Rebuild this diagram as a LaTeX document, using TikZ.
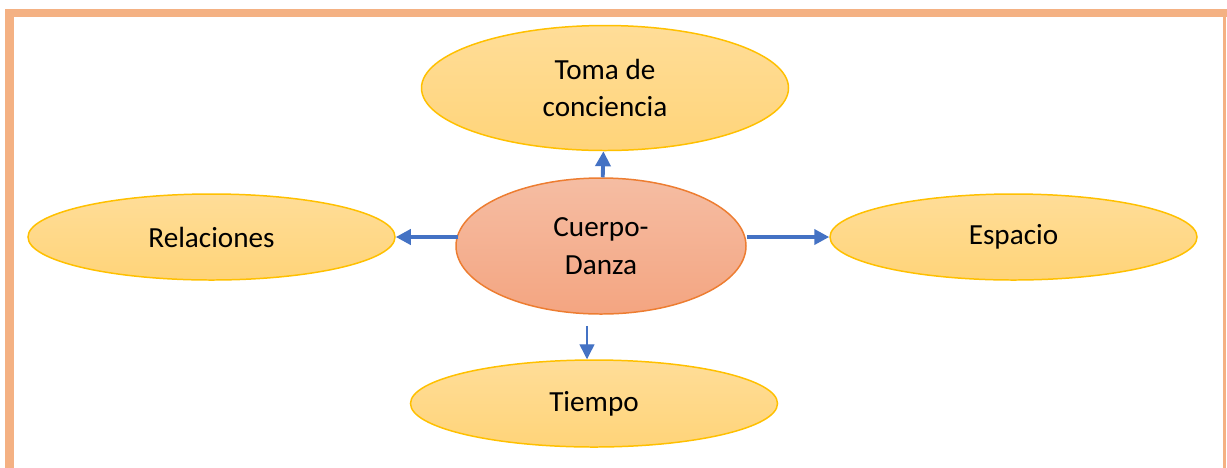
\documentclass[tikz,border=0pt]{standalone}
\usepackage{fontspec}
\setmainfont{Carlito}
\usepackage{xcolor}
\usepackage{tikz}
\usetikzlibrary{shapes.geometric,arrows.meta}

\definecolor{marcosalmon}{HTML}{F4B183}
\definecolor{bordeamarillo}{HTML}{FFC000}
\definecolor{amarilloarriba}{HTML}{FFDD98}
\definecolor{amarilloabajo}{HTML}{FFD479}
\definecolor{bordenaranja}{HTML}{ED7D31}
\definecolor{salmonarriba}{HTML}{F5BDA3}
\definecolor{salmonabajo}{HTML}{F4A581}
\definecolor{azulflecha}{HTML}{4472C4}

\begin{document}
\begin{tikzpicture}
			\tikzstyle{every node}=[font=\fontsize{16.6}{21.5}\selectfont, align=center];
			\tikzstyle{elipseamarilla}=[ellipse, inner sep=0pt, line width=0.85pt, draw=bordeamarillo, top color=amarilloarriba, bottom color=amarilloabajo, minimum width=7.34cm];
			\tikzstyle{elipsecentro}=[ellipse, inner sep=0pt, line width=0.85pt, draw=bordenaranja, top color=salmonarriba, bottom color=salmonabajo, minimum width=5.8cm, minimum height=2.72cm];
			\tikzstyle{flecha}=[azulflecha, line width=2.2pt, -{Triangle[width=0.3cm, length=0.3cm]}];
			\tikzstyle{flechafina}=[azulflecha, line width=0.8pt, -{Triangle[width=0.3cm, length=0.3cm]}];
			
			\useasboundingbox (0, 0) rectangle (24.54, -9.34);
			
			%Marco
			\draw[marcosalmon, line width=0.17cm] (0.19, -9.4) -- (0.19, -0.26) -- (24.6, -0.26);
			\draw[marcosalmon, line width=0.05cm] (24.49, -0.26) -- (24.49, -9.4);
			
			%Centro
			\node[elipsecentro] (cuerpo) at (12.02, -4.92) {Cuerpo-\\Danza};
			
			%Ramas
			\node[elipseamarilla, minimum height=2.5cm] (toma) at (12.10, -1.76) {Toma de\\conciencia};
			\node[elipseamarilla, minimum height=1.72cm] (relaciones) at (4.23, -4.74) {Relaciones};
			\node[elipseamarilla, minimum height=1.72cm] (espacio) at (20.27, -4.74) {Espacio};
			\node[elipseamarilla, minimum height=1.74cm] (tiempo) at (11.88, -8.07) {Tiempo};
			
			%Flechas
			\draw[flecha] (cuerpo) -- (toma);
			\draw[flecha] ([xshift=0.06cm]cuerpo.west |- relaciones.east) -- (relaciones.east);
			\draw[flecha] (cuerpo.east |- espacio.west) -- (espacio.west);
			\draw[flechafina] ([xshift=-0.28cm, yshift=-0.22cm]cuerpo.south) -- ([xshift=-0.28cm]cuerpo.south |- tiempo.north);
			\end{tikzpicture}
\end{document}
